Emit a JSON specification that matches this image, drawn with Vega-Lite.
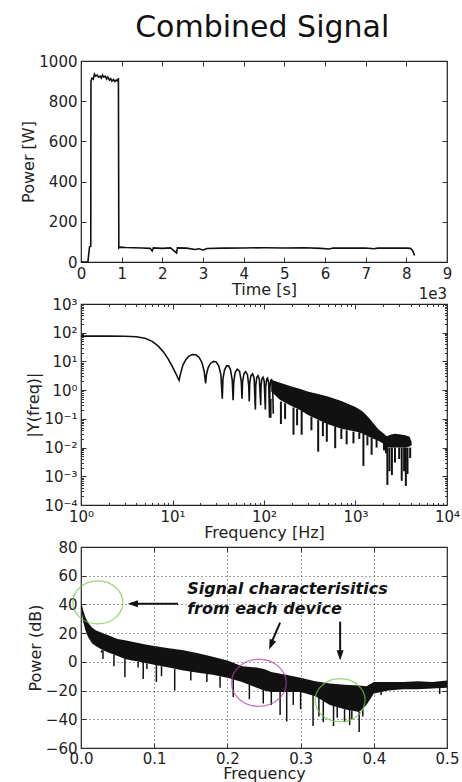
{
  "$schema": "https://vega.github.io/schema/vega-lite/v6.json",
  "padding": {"left": 20, "top": 13, "right": 0, "bottom": 0},
  "title": {"text": "Combined Signal", "fontSize": 30, "fontWeight": "normal", "font": "DejaVu Sans", "color": "#111", "anchor": "middle", "offset": 10, "dx": 22},
  "bounds": "flush",
  "spacing": 42,
  "config": {
    "font": "DejaVu Sans",
    "view": {"stroke": "#222", "strokeWidth": 1.2},
    "axis": {"labelFont": "DejaVu Sans", "labelFontSize": 15, "labelColor": "#222", "titleFont": "DejaVu Sans", "titleFontSize": 16, "titleFontWeight": "normal", "titleColor": "#222", "domain": false, "tickColor": "#333", "tickSize": -5, "labelPadding": 9, "grid": false, "titlePadding": 2, "labelFlush": false, "labelOverlap": false}
  },
  "vconcat": [
    {
      "width": 366, "height": 201,
      "resolve": {"axis": {"x": "independent", "y": "independent"}},
      "layer": [
        {
          "data": {"values": [
            {"t": 0, "p": 0}, {"t": 0.17, "p": 0}, {"t": 0.19, "p": 40}, {"t": 0.21, "p": 75}, {"t": 0.24, "p": 78}, {"t": 0.245, "p": 900},
            {"t": 0.27, "p": 915}, {"t": 0.3, "p": 910}, {"t": 0.33, "p": 935}, {"t": 0.36, "p": 925}, {"t": 0.4, "p": 930}, {"t": 0.43, "p": 920},
            {"t": 0.47, "p": 925}, {"t": 0.5, "p": 915}, {"t": 0.53, "p": 930}, {"t": 0.56, "p": 920}, {"t": 0.6, "p": 925}, {"t": 0.63, "p": 910},
            {"t": 0.66, "p": 920}, {"t": 0.7, "p": 905}, {"t": 0.73, "p": 912}, {"t": 0.76, "p": 900}, {"t": 0.8, "p": 908}, {"t": 0.83, "p": 898},
            {"t": 0.87, "p": 905}, {"t": 0.9, "p": 900}, {"t": 0.92, "p": 915}, {"t": 0.93, "p": 70}, {"t": 0.96, "p": 74}, {"t": 1.1, "p": 72},
            {"t": 1.3, "p": 71}, {"t": 1.5, "p": 70}, {"t": 1.7, "p": 68}, {"t": 1.75, "p": 55}, {"t": 1.78, "p": 70}, {"t": 2.0, "p": 68},
            {"t": 2.2, "p": 70}, {"t": 2.35, "p": 45}, {"t": 2.37, "p": 70}, {"t": 2.6, "p": 69}, {"t": 2.8, "p": 62}, {"t": 2.9, "p": 66},
            {"t": 3.0, "p": 60}, {"t": 3.1, "p": 67}, {"t": 3.5, "p": 69}, {"t": 4.0, "p": 70}, {"t": 4.5, "p": 71}, {"t": 5.0, "p": 70},
            {"t": 5.5, "p": 71}, {"t": 5.9, "p": 68}, {"t": 6.1, "p": 65}, {"t": 6.2, "p": 70}, {"t": 6.5, "p": 69}, {"t": 7.0, "p": 70},
            {"t": 7.2, "p": 66}, {"t": 7.3, "p": 69}, {"t": 7.5, "p": 70}, {"t": 8.0, "p": 69}, {"t": 8.1, "p": 68}, {"t": 8.15, "p": 58},
            {"t": 8.18, "p": 45}, {"t": 8.2, "p": 32}
          ]},
          "mark": {"type": "line", "color": "#111", "strokeWidth": 1.6},
          "encoding": {
            "x": {"field": "t", "type": "quantitative", "scale": {"domain": [0, 9], "nice": false}, "axis": {"title": "Time [s]", "values": [0, 1, 2, 3, 4, 5, 6, 7, 8, 9], "format": "d", "titlePadding": 0}},
            "y": {"field": "p", "type": "quantitative", "scale": {"domain": [0, 1000], "nice": false}, "axis": {"title": "Power [W]", "values": [0, 200, 400, 600, 800, 1000], "format": "d"}}
          }
        },
        {
          "data": {"values": [{"t": 9, "p": 0, "label": "1e3"}]},
          "mark": {"type": "text", "align": "right", "baseline": "alphabetic", "dy": 37, "fontSize": 15, "color": "#222"},
          "encoding": {
            "x": {"field": "t", "type": "quantitative", "axis": null},
            "y": {"field": "p", "type": "quantitative", "axis": null},
            "text": {"field": "label"}
          }
        },
        {
          "mark": {"type": "point", "opacity": 0},
          "encoding": {
            "x": {"datum": 0, "type": "quantitative", "axis": {"orient": "top", "labels": false, "title": null, "values": [1, 2, 3, 4, 5, 6, 7, 8]}},
            "y": {"datum": 0, "type": "quantitative", "axis": {"orient": "right", "labels": false, "title": null, "values": [200, 400, 600, 800]}}
          }
        }
      ]
    },
    {
      "width": 366, "height": 201,
      "resolve": {"axis": {"x": "independent", "y": "independent"}},
      "layer": [
        {
          "data": {"values": [
            {"f": 1, "a": 76}, {"f": 2, "a": 76}, {"f": 3, "a": 75}, {"f": 4, "a": 72}, {"f": 5, "a": 64}, {"f": 6, "a": 50}, {"f": 7, "a": 34},
            {"f": 8, "a": 21}, {"f": 9, "a": 12}, {"f": 10, "a": 6.5}, {"f": 11, "a": 3.5}, {"f": 11.8, "a": 2.2},
            {"f": 12.3, "a": 4}, {"f": 13, "a": 7.5}, {"f": 14, "a": 11.5}, {"f": 15, "a": 15}, {"f": 16.5, "a": 17.5}, {"f": 18, "a": 17},
            {"f": 19.5, "a": 14}, {"f": 21, "a": 9}, {"f": 22.2, "a": 4.5}, {"f": 23, "a": 1.7},
            {"f": 23.5, "a": 3.5}, {"f": 24.5, "a": 6}, {"f": 26, "a": 8.5}, {"f": 28, "a": 10}, {"f": 30, "a": 9.5}, {"f": 32, "a": 7}, {"f": 33.8, "a": 3.5}, {"f": 35, "a": 0.5},
            {"f": 35.6, "a": 2.5}, {"f": 37, "a": 5}, {"f": 39, "a": 7}, {"f": 41, "a": 7}, {"f": 43, "a": 5.2}, {"f": 45, "a": 2.2}, {"f": 46, "a": 0.45},
            {"f": 46.7, "a": 2}, {"f": 48.5, "a": 4.2}, {"f": 51, "a": 5.4}, {"f": 54, "a": 4.6}, {"f": 56.5, "a": 2}, {"f": 57.5, "a": 0.5},
            {"f": 58.3, "a": 2}, {"f": 60.5, "a": 3.8}, {"f": 63, "a": 4.4}, {"f": 66, "a": 3.4}, {"f": 68, "a": 1.5}, {"f": 69, "a": 0.4},
            {"f": 69.8, "a": 1.8}, {"f": 72, "a": 3.2}, {"f": 75, "a": 3.7}, {"f": 78, "a": 2.6}, {"f": 80.5, "a": 0.21},
            {"f": 81.3, "a": 1.5}, {"f": 83.5, "a": 2.8}, {"f": 86, "a": 3.2}, {"f": 89, "a": 2.4}, {"f": 92, "a": 0.3},
            {"f": 92.8, "a": 1.4}, {"f": 95, "a": 2.5}, {"f": 97.5, "a": 2.8}, {"f": 100.5, "a": 2.1}, {"f": 103.5, "a": 0.21},
            {"f": 104.3, "a": 1.3}, {"f": 107, "a": 2.4}, {"f": 109.5, "a": 2.6}, {"f": 112.5, "a": 1.8}, {"f": 115, "a": 0.11},
            {"f": 116, "a": 1.2}, {"f": 118.5, "a": 2.2}, {"f": 121, "a": 2.3}, {"f": 124, "a": 1.6}, {"f": 126.5, "a": 0.15}
          ]},
          "mark": {"type": "line", "color": "#111", "strokeWidth": 1.6},
          "encoding": {
            "x": {"field": "f", "type": "quantitative", "scale": {"type": "log", "domain": [1, 10000], "nice": false},
                  "axis": {"title": "Frequency [Hz]", "values": [1, 10, 100, 1000, 10000], "labelExpr": "'10' + ['⁰','¹','²','³','⁴'][round(log(datum.value)/LN10)]", "titlePadding": 0}},
            "y": {"field": "a", "type": "quantitative", "scale": {"type": "log", "domain": [0.0001, 1000], "nice": false},
                  "axis": {"title": "|Y(freq)|", "values": [0.0001, 0.001, 0.01, 0.1, 1, 10, 100, 1000], "labelExpr": "'10' + ['⁻⁴','⁻³','⁻²','⁻¹','⁰','¹','²','³'][round(log(datum.value)/LN10)+4]"}}
          }
        },
        {
          "data": {"values": [
            {"f": 120, "hi": 2.3, "lo": 0.9}, {"f": 150, "hi": 1.8, "lo": 0.45}, {"f": 200, "hi": 1.35, "lo": 0.28}, {"f": 250, "hi": 1.1, "lo": 0.2},
            {"f": 300, "hi": 0.9, "lo": 0.14}, {"f": 400, "hi": 0.72, "lo": 0.09}, {"f": 500, "hi": 0.6, "lo": 0.065}, {"f": 700, "hi": 0.42, "lo": 0.045},
            {"f": 1000, "hi": 0.26, "lo": 0.036}, {"f": 1200, "hi": 0.18, "lo": 0.03}, {"f": 1400, "hi": 0.11, "lo": 0.024}, {"f": 1600, "hi": 0.065, "lo": 0.02},
            {"f": 1800, "hi": 0.042, "lo": 0.017}, {"f": 2000, "hi": 0.032, "lo": 0.014}, {"f": 2200, "hi": 0.025, "lo": 0.011}, {"f": 2400, "hi": 0.028, "lo": 0.01},
            {"f": 2700, "hi": 0.03, "lo": 0.01}, {"f": 3000, "hi": 0.029, "lo": 0.01}, {"f": 3500, "hi": 0.027, "lo": 0.01}, {"f": 3900, "hi": 0.024, "lo": 0.011},
            {"f": 4100, "hi": 0.016, "lo": 0.012}
          ]},
          "mark": {"type": "area", "color": "#111"},
          "encoding": {
            "x": {"field": "f", "type": "quantitative", "axis": null},
            "y": {"field": "hi", "type": "quantitative", "axis": null},
            "y2": {"field": "lo"}
          }
        },
        {
          "data": {"values": [
            {"f": 118, "top": 0.5, "bot": 0.11}, {"f": 153, "top": 0.4, "bot": 0.066}, {"f": 170, "top": 0.35, "bot": 0.1}, {"f": 210, "top": 0.25, "bot": 0.028},
            {"f": 230, "top": 0.22, "bot": 0.06}, {"f": 258, "top": 0.2, "bot": 0.028}, {"f": 330, "top": 0.12, "bot": 0.04}, {"f": 391, "top": 0.09, "bot": 0.0072},
            {"f": 440, "top": 0.08, "bot": 0.025}, {"f": 486, "top": 0.07, "bot": 0.016}, {"f": 600, "top": 0.055, "bot": 0.0095}, {"f": 700, "top": 0.045, "bot": 0.02},
            {"f": 800, "top": 0.04, "bot": 0.013}, {"f": 950, "top": 0.036, "bot": 0.014}, {"f": 1100, "top": 0.033, "bot": 0.02}, {"f": 1220, "top": 0.03, "bot": 0.0023},
            {"f": 1350, "top": 0.025, "bot": 0.012}, {"f": 1500, "top": 0.022, "bot": 0.0056}, {"f": 1700, "top": 0.02, "bot": 0.01}, {"f": 2050, "top": 0.015, "bot": 0.008},
            {"f": 2150, "top": 0.013, "bot": 0.0063}, {"f": 2230, "top": 0.012, "bot": 0.0005}, {"f": 2350, "top": 0.01, "bot": 0.0015}, {"f": 2500, "top": 0.01, "bot": 0.0011},
            {"f": 2700, "top": 0.01, "bot": 0.003}, {"f": 3000, "top": 0.01, "bot": 0.004}, {"f": 3200, "top": 0.01, "bot": 0.0007}, {"f": 3400, "top": 0.01, "bot": 0.0015},
            {"f": 3550, "top": 0.01, "bot": 0.00046}, {"f": 3700, "top": 0.01, "bot": 0.0012}, {"f": 3960, "top": 0.01, "bot": 0.0043}
          ]},
          "mark": {"type": "rule", "color": "#111", "strokeWidth": 2},
          "encoding": {
            "x": {"field": "f", "type": "quantitative", "axis": null},
            "y": {"field": "top", "type": "quantitative", "axis": null},
            "y2": {"field": "bot"}
          }
        },
        {
          "mark": {"type": "point", "opacity": 0},
          "encoding": {
            "x": {"datum": 1, "type": "quantitative", "axis": {"orient": "top", "labels": false, "title": null, "values": [10, 100, 1000]}},
            "y": {"datum": 1, "type": "quantitative", "axis": {"orient": "right", "labels": false, "title": null, "values": [0.001, 0.01, 0.1, 1, 10, 100]}}
          }
        },
        {
          "mark": {"type": "point", "opacity": 0},
          "encoding": {
            "x": {"datum": 1, "type": "quantitative", "axis": {"orient": "bottom", "labels": false, "title": null, "tickSize": -2.5, "values": [2, 3, 4, 5, 6, 7, 8, 9, 20, 30, 40, 50, 60, 70, 80, 90, 200, 300, 400, 500, 600, 700, 800, 900, 2000, 3000, 4000, 5000, 6000, 7000, 8000, 9000]}},
            "y": {"datum": 1, "type": "quantitative", "axis": {"orient": "left", "labels": false, "title": null, "tickSize": -2.5, "values": [0.0002, 0.0003, 0.0004, 0.0005, 0.0006, 0.0007, 0.0008, 0.0009, 0.002, 0.003, 0.004, 0.005, 0.006, 0.007, 0.008, 0.009, 0.02, 0.03, 0.04, 0.05, 0.06, 0.07, 0.08, 0.09, 0.2, 0.3, 0.4, 0.5, 0.6, 0.7, 0.8, 0.9, 2, 3, 4, 5, 6, 7, 8, 9, 20, 30, 40, 50, 60, 70, 80, 90, 200, 300, 400, 500, 600, 700, 800, 900]}}
          }
        },
        {
          "mark": {"type": "point", "opacity": 0},
          "encoding": {
            "x": {"datum": 1, "type": "quantitative", "axis": {"orient": "top", "labels": false, "title": null, "tickSize": -2.5, "values": [2, 3, 4, 5, 6, 7, 8, 9, 20, 30, 40, 50, 60, 70, 80, 90, 200, 300, 400, 500, 600, 700, 800, 900, 2000, 3000, 4000, 5000, 6000, 7000, 8000, 9000]}},
            "y": {"datum": 1, "type": "quantitative", "axis": {"orient": "right", "labels": false, "title": null, "tickSize": -2.5, "values": [0.0002, 0.0003, 0.0004, 0.0005, 0.0006, 0.0007, 0.0008, 0.0009, 0.002, 0.003, 0.004, 0.005, 0.006, 0.007, 0.008, 0.009, 0.02, 0.03, 0.04, 0.05, 0.06, 0.07, 0.08, 0.09, 0.2, 0.3, 0.4, 0.5, 0.6, 0.7, 0.8, 0.9, 2, 3, 4, 5, 6, 7, 8, 9, 20, 30, 40, 50, 60, 70, 80, 90, 200, 300, 400, 500, 600, 700, 800, 900]}}
          }
        }
      ]
    },
    {
      "width": 366, "height": 201,
      "resolve": {"axis": {"x": "independent", "y": "independent"}},
      "layer": [
        {
          "data": {"values": [
            {"f": 0.0, "hi": 42, "lo": 38}, {"f": 0.003, "hi": 36, "lo": 28}, {"f": 0.006, "hi": 31, "lo": 22}, {"f": 0.01, "hi": 27, "lo": 17},
            {"f": 0.015, "hi": 24, "lo": 13}, {"f": 0.02, "hi": 22, "lo": 11}, {"f": 0.03, "hi": 20, "lo": 8}, {"f": 0.04, "hi": 18, "lo": 6},
            {"f": 0.05, "hi": 16, "lo": 4}, {"f": 0.06, "hi": 15, "lo": 2}, {"f": 0.07, "hi": 14, "lo": 1}, {"f": 0.08, "hi": 13, "lo": 0},
            {"f": 0.09, "hi": 12, "lo": -1}, {"f": 0.1, "hi": 11, "lo": -2}, {"f": 0.12, "hi": 9.5, "lo": -4}, {"f": 0.14, "hi": 8, "lo": -6},
            {"f": 0.16, "hi": 6, "lo": -7.5}, {"f": 0.18, "hi": 3.5, "lo": -9}, {"f": 0.2, "hi": 1, "lo": -11}, {"f": 0.22, "hi": -3, "lo": -14},
            {"f": 0.24, "hi": -4, "lo": -18}, {"f": 0.25, "hi": -5, "lo": -20}, {"f": 0.26, "hi": -7, "lo": -21}, {"f": 0.28, "hi": -9, "lo": -21},
            {"f": 0.3, "hi": -11, "lo": -21}, {"f": 0.32, "hi": -13.5, "lo": -24}, {"f": 0.34, "hi": -15, "lo": -30}, {"f": 0.36, "hi": -16, "lo": -33},
            {"f": 0.38, "hi": -16.5, "lo": -35}, {"f": 0.39, "hi": -17, "lo": -30}, {"f": 0.4, "hi": -14, "lo": -22}, {"f": 0.42, "hi": -14, "lo": -20},
            {"f": 0.44, "hi": -14, "lo": -19}, {"f": 0.46, "hi": -13.5, "lo": -19}, {"f": 0.48, "hi": -14, "lo": -18.5}, {"f": 0.5, "hi": -13, "lo": -18}
          ]},
          "mark": {"type": "area", "color": "#111"},
          "encoding": {
            "x": {"field": "f", "type": "quantitative", "scale": {"domain": [0, 0.5], "nice": false},
                  "axis": {"title": "Frequency", "values": [0, 0.1, 0.2, 0.3, 0.4, 0.5], "format": ".1f", "grid": true, "gridDash": [1, 3], "gridColor": "#444", "labelPadding": 8, "titlePadding": -1}},
            "y": {"field": "hi", "type": "quantitative", "scale": {"domain": [-60, 80], "nice": false},
                  "axis": {"title": "Power (dB)", "values": [-60, -40, -20, 0, 20, 40, 60, 80], "grid": true, "gridDash": [1, 3], "gridColor": "#444", "labelOverlap": false}},
            "y2": {"field": "lo"}
          }
        },
        {
          "data": {"values": [
            {"f": 0.028, "top": 8, "bot": 6.5}, {"f": 0.03, "top": 8, "bot": 2}, {"f": 0.045, "top": 5, "bot": -3}, {"f": 0.06, "top": 2, "bot": -10.8},
            {"f": 0.078, "top": 0, "bot": -4}, {"f": 0.085, "top": 0, "bot": -12}, {"f": 0.09, "top": -1, "bot": -5}, {"f": 0.103, "top": -2, "bot": -14},
            {"f": 0.11, "top": -3, "bot": -10}, {"f": 0.128, "top": -5, "bot": -20}, {"f": 0.15, "top": -6, "bot": -13}, {"f": 0.172, "top": -8, "bot": -14},
            {"f": 0.19, "top": -10, "bot": -18}, {"f": 0.208, "top": -12, "bot": -24.6}, {"f": 0.23, "top": -15, "bot": -26}, {"f": 0.249, "top": -19, "bot": -29},
            {"f": 0.26, "top": -20, "bot": -30}, {"f": 0.272, "top": -21, "bot": -37}, {"f": 0.281, "top": -21, "bot": -41.5}, {"f": 0.29, "top": -21, "bot": -30},
            {"f": 0.3, "top": -21, "bot": -33}, {"f": 0.317, "top": -23, "bot": -44.7}, {"f": 0.325, "top": -25, "bot": -38}, {"f": 0.331, "top": -27, "bot": -42},
            {"f": 0.345, "top": -30, "bot": -44.7}, {"f": 0.35, "top": -31, "bot": -39}, {"f": 0.36, "top": -33, "bot": -42}, {"f": 0.367, "top": -33, "bot": -44},
            {"f": 0.37, "top": -34, "bot": -40}, {"f": 0.38, "top": -35, "bot": -48.9}, {"f": 0.385, "top": -33, "bot": -38}, {"f": 0.41, "top": -21, "bot": -23},
            {"f": 0.49, "top": -18, "bot": -22.4}
          ]},
          "mark": {"type": "rule", "color": "#111", "strokeWidth": 1.5},
          "encoding": {
            "x": {"field": "f", "type": "quantitative", "axis": null},
            "y": {"field": "top", "type": "quantitative", "axis": null},
            "y2": {"field": "bot"}
          }
        },
        {
          "data": {"values": [
            {"f": 0.023, "db": 41.4, "group": "a"}, {"f": 0.243, "db": -14.6, "group": "b"}, {"f": 0.354, "db": -26.7, "group": "a"}
          ]},
          "mark": {"type": "point", "filled": false, "strokeWidth": 1.3, "shape": "M-1,0A1,0.86,0,1,0,1,0A1,0.86,0,1,0,-1,0Z"},
          "encoding": {
            "x": {"field": "f", "type": "quantitative", "axis": null},
            "y": {"field": "db", "type": "quantitative", "axis": null},
            "color": {"field": "group", "type": "nominal", "scale": {"domain": ["a", "b"], "range": ["#72c845", "#b8429e"]}, "legend": null},
            "size": {"field": "group", "type": "nominal", "scale": {"domain": ["a", "b"], "range": [2500, 3000]}, "legend": null}
          }
        },
        {
          "data": {"values": [
            {"x0": 0.1325, "y0": 40.5, "x1": 0.068, "y1": 40.5},
            {"x0": 0.272, "y0": 27.3, "x1": 0.259, "y1": 12},
            {"x0": 0.354, "y0": 28, "x1": 0.354, "y1": 4}
          ]},
          "mark": {"type": "rule", "color": "#111", "strokeWidth": 2},
          "encoding": {
            "x": {"field": "x0", "type": "quantitative", "axis": null},
            "y": {"field": "y0", "type": "quantitative", "axis": null},
            "x2": {"field": "x1"},
            "y2": {"field": "y1"}
          }
        },
        {
          "data": {"values": [{"x": 0.064, "y": 40.5}]},
          "mark": {"type": "point", "filled": true, "color": "#111", "opacity": 1, "size": 160, "angle": 270, "shape": "M0,0L0.55,1.6L-0.55,1.6Z"},
          "encoding": {"x": {"field": "x", "type": "quantitative", "axis": null}, "y": {"field": "y", "type": "quantitative", "axis": null}}
        },
        {
          "data": {"values": [{"x": 0.257, "y": 8.6}]},
          "mark": {"type": "point", "filled": true, "color": "#111", "opacity": 1, "size": 160, "angle": 202, "shape": "M0,0L0.55,1.6L-0.55,1.6Z"},
          "encoding": {"x": {"field": "x", "type": "quantitative", "axis": null}, "y": {"field": "y", "type": "quantitative", "axis": null}}
        },
        {
          "data": {"values": [{"x": 0.354, "y": 1}]},
          "mark": {"type": "point", "filled": true, "color": "#111", "opacity": 1, "size": 160, "angle": 180, "shape": "M0,0L0.55,1.6L-0.55,1.6Z"},
          "encoding": {"x": {"field": "x", "type": "quantitative", "axis": null}, "y": {"field": "y", "type": "quantitative", "axis": null}}
        },
        {
          "data": {"values": [{"x": 0.145, "y": 47.6, "label": "Signal characterisitics\nfrom each device"}]},
          "mark": {"type": "text", "align": "left", "baseline": "alphabetic", "fontSize": 16, "fontWeight": "bold", "fontStyle": "italic", "lineBreak": "\n", "lineHeight": 20, "color": "#111"},
          "encoding": {"x": {"field": "x", "type": "quantitative", "axis": null}, "y": {"field": "y", "type": "quantitative", "axis": null}, "text": {"field": "label"}}
        },
        {
          "mark": {"type": "point", "opacity": 0},
          "encoding": {
            "x": {"datum": 0, "type": "quantitative", "axis": {"orient": "top", "labels": false, "title": null, "values": [0.1, 0.2, 0.3, 0.4]}},
            "y": {"datum": 0, "type": "quantitative", "axis": {"orient": "right", "labels": false, "title": null, "values": [-40, -20, 0, 20, 40, 60]}}
          }
        }
      ]
    }
  ]
}
